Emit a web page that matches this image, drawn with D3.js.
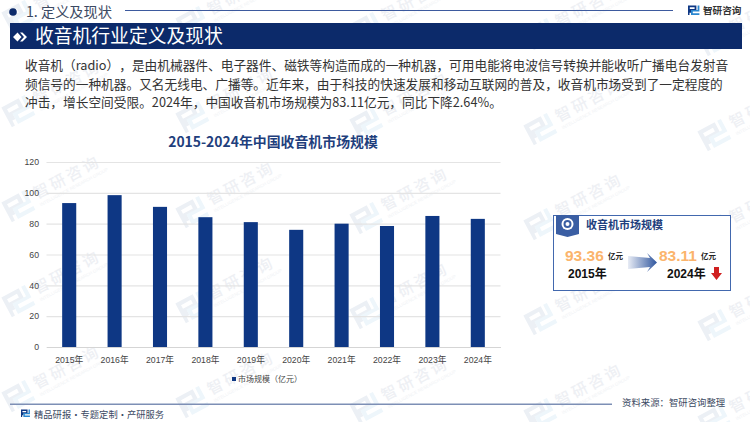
<!DOCTYPE html>
<html>
<head>
    <meta charset="utf-8">
    <title>收音机市场规模</title>
    <script src="https://d3js.org/d3.v7.min.js"></script>
    <style>
        html, body { margin: 0; padding: 0; background: #fff; }
        svg { display: block; }
        text { font-family: "Noto Sans CJK SC", "Noto Sans", sans-serif; text-spacing-trim: space-all; font-feature-settings: "chws" 0, "palt" 0; }
        .latin { font-family: "Liberation Sans", "Noto Sans CJK SC", sans-serif; }
    </style>
</head>
<body>
    <div id="chart"></div>
    <script>
        var years = ["2015年","2016年","2017年","2018年","2019年","2020年","2021年","2022年","2023年","2024年"];
        var marketSize = [93.36,98.5,90.9,84.2,81,76,80,78.5,85,83.11];
        var yTicks = [0,20,40,60,80,100,120];
        var introLines = [
            "收音机（radio），是由机械器件、电子器件、磁铁等构造而成的一种机器，可用电能将电波信号转换并能收听广播电台发射音",
            "频信号的一种机器。又名无线电、广播等。近年来，由于科技的快速发展和移动互联网的普及，收音机市场受到了一定程度的",
            "冲击，增长空间受限。2024年，中国收音机市场规模为83.11亿元，同比下降2.64%。"
        ];
        var navy = "#0c2a6a";
        var barColor = "#0e3784";

        var svg = d3.select("#chart").append("svg")
            .attr("width", 750)
            .attr("height", 422);

        var defs = svg.append("defs");
        var arrowGrad = defs.append("linearGradient").attr("id", "arrowGrad");
        arrowGrad.append("stop").attr("offset", "0").attr("stop-color", "#e8ecf5");
        arrowGrad.append("stop").attr("offset", "1").attr("stop-color", "#2f569e");

        // logo mark, used for the header, footer and watermark
        function logo(g, s, c1, c2) {
            g.append("path").attr("fill", c1)
                .attr("fill-rule", "evenodd")
                .attr("d", "M0 0H" + 14*s + "V" + 9*s + "H" + 5*s + "V" + 12*s + "H" + 2.5*s + "V" + 16*s + "H0Z" +
                    "M" + 3*s + " " + 3*s + "V" + 6*s + "H" + 11*s + "V" + 3*s + "Z");
            g.append("path").attr("fill", c2)
                .attr("d", "M" + 16*s + " 0H" + 19*s + "V" + 10*s + "H" + 8*s + "V" + 13*s + "H" + 19*s + "V" + 16*s + "H" + 5*s + "V" + 7.5*s + "H" + 16*s + "Z");
        }

        // watermark, a slightly skewed lattice of rotated stamps
        d3.range(0, 5).forEach(function(c) {
            d3.range(-3, 2).forEach(function(r) {
                var wm = svg.append("g")
                    .attr("transform", "translate(" + (18 + c*174) + "," + (301 + c*6 + r*95) + ") rotate(-28)");
                logo(wm.append("g").attr("transform", "translate(-13,-11)"), 1.4, "#ecf0f5", "#eef6fb");
                wm.append("text").attr("x", 20).attr("y", 3)
                    .attr("font-size", 15.5).attr("font-weight", 500).attr("fill", "#eef0f4")
                    .attr("letter-spacing", 3).text("智研咨询");
                wm.append("text").attr("x", 20).attr("y", 11)
                    .attr("class", "latin")
                    .attr("font-size", 4.5).attr("fill", "#f0f2f5")
                    .text("INTELLIGENCE RESEARCH GROUP");
            });
        });

        // header
        svg.append("circle").attr("cx", 13).attr("cy", 12).attr("r", 3.8).attr("fill", navy);
        svg.append("text").attr("x", 26).attr("y", 17).attr("font-size", 14.2).attr("fill", "#3c4a63").text("1. 定义及现状");
        svg.append("line").attr("x1", 125).attr("x2", 673).attr("y1", 10.5).attr("y2", 10.5)
            .attr("stroke", "#3d5a9e").attr("stroke-width", 1);
        logo(svg.append("g").attr("transform", "translate(688,5.5)"), 0.6, "#0e3784", "#2a87d0");
        svg.append("text").attr("x", 703).attr("y", 14).attr("font-size", 9.6).attr("font-weight", 700)
            .attr("fill", "#333").text("智研咨询");

        svg.append("rect").attr("x", 10).attr("y", 23).attr("width", 732).attr("height", 26).attr("fill", navy);
        svg.append("path").attr("fill", "#fff")
            .attr("d", "M13 37l4.5-4.5 4 4.5-4 4.5ZM20 32.5h2.5l4.5 4.5-4.5 4.5H20l4-4.5Z");
        svg.append("text").attr("x", 35).attr("y", 43).attr("font-size", 18.8).attr("fill", "#fff").text("收音机行业定义及现状");

        // intro paragraph
        svg.append("g").selectAll("text")
            .data(introLines)
            .enter()
            .append("text")
            .attr("x", 25)
            .attr("y", function(d, i) { return 70 + i*18.5; })
            .attr("font-size", 12.7)
            .attr("fill", "#333")
            .text(function(d) { return d; });

        // chart
        svg.append("text").attr("x", 273).attr("y", 147).attr("text-anchor", "middle")
            .attr("font-size", 13.9).attr("font-weight", 700).attr("fill", "#1f3f7d")
            .text("2015-2024年中国收音机市场规模");

        var x = d3.scaleBand().domain(years).range([46.5, 500.5]).paddingInner(0.69).paddingOuter(0.345);
        var y = d3.scaleLinear().domain([0, 120]).range([347, 162]);

        var yAxis = svg.append("g")
            .attr("transform", "translate(46.5,0)")
            .call(d3.axisLeft(y).tickValues(yTicks).tickSize(-454).tickPadding(7.5));
        yAxis.select(".domain").remove();
        yAxis.selectAll("line").attr("stroke", "#e4e4e4").attr("stroke-width", 1.2);
        yAxis.selectAll("text").attr("font-size", 8.7).attr("fill", "#444").attr("class", "latin");

        svg.append("g").selectAll("rect")
            .data(marketSize)
            .enter()
            .append("rect")
            .attr("x", function(d, i) { return x(years[i]); })
            .attr("y", function(d) { return y(d); })
            .attr("width", x.bandwidth())
            .attr("height", function(d) { return y(0) - y(d); })
            .attr("fill", barColor);

        var xAxis = svg.append("g")
            .attr("transform", "translate(0,347)")
            .call(d3.axisBottom(x).tickSize(0).tickPadding(9.5));
        xAxis.select(".domain").attr("stroke", "#d5d5d5");
        xAxis.selectAll("text").attr("font-size", 8.7).attr("fill", "#444").attr("class", "latin");

        // legend
        svg.append("rect").attr("x", 232).attr("y", 377).attr("width", 4).attr("height", 4).attr("fill", barColor);
        svg.append("text").attr("x", 238).attr("y", 382).attr("font-size", 8).attr("fill", "#444").text("市场规模（亿元）");

        // summary card
        svg.append("rect").attr("x", 553.5).attr("y", 215.5).attr("width", 177).attr("height", 75)
            .attr("fill", "#fff").attr("stroke", "#4268ae").attr("stroke-width", 1);
        svg.append("path").attr("fill", "#3a5ea3").attr("d", "M556 215H579V234L567.5 237L556 234Z");
        svg.append("circle").attr("cx", 567.5).attr("cy", 224).attr("r", 6).attr("fill", "#fff");
        svg.append("circle").attr("cx", 567.5).attr("cy", 224).attr("r", 3).attr("fill", "none")
            .attr("stroke", "#3a5ea3").attr("stroke-width", 2);
        svg.append("text").attr("x", 586).attr("y", 229).attr("font-size", 11).attr("font-weight", 700)
            .attr("fill", "#1f3f7d").text("收音机市场规模");

        svg.append("text").attr("class", "latin").attr("x", 565).attr("y", 261).attr("font-size", 15.5).attr("font-weight", 700)
            .attr("fill", "#fbb46c").text("93.36");
        svg.append("text").attr("x", 608).attr("y", 259).attr("font-size", 7.5).attr("font-weight", 700)
            .attr("fill", "#222").text("亿元");
        svg.append("text").attr("class", "latin").attr("x", 568).attr("y", 278).attr("font-size", 12).attr("font-weight", 700)
            .attr("fill", "#111").text("2015年");

        svg.append("path").attr("fill", "url(#arrowGrad)")
            .attr("d", "M628 256L650 258L647 253L657 262.5L647 272L650 267L628 269Z");

        svg.append("text").attr("class", "latin").attr("x", 659).attr("y", 261).attr("font-size", 15.5).attr("font-weight", 700)
            .attr("fill", "#fbb46c").text("83.11");
        svg.append("text").attr("x", 701).attr("y", 259).attr("font-size", 7.5).attr("font-weight", 700)
            .attr("fill", "#222").text("亿元");
        svg.append("text").attr("class", "latin").attr("x", 667).attr("y", 278).attr("font-size", 12).attr("font-weight", 700)
            .attr("fill", "#111").text("2024年");
        svg.append("path").attr("fill", "#d02020").attr("d", "M714 267H719V273H722L716.5 280L711 273H714Z");

        // footer
        svg.append("rect").attr("x", 10).attr("y", 403.5).attr("width", 602).attr("height", 1.5).attr("fill", "#7d8fb5");
        logo(svg.append("g").attr("transform", "translate(21,409.5)"), 0.47, "#0e3784", "#2a87d0");
        svg.append("text").attr("x", 34).attr("y", 417.5).attr("font-size", 9.3).attr("fill", "#3c4a63")
            .text("精品研报・专题定制・产研服务");
        svg.append("text").attr("x", 622).attr("y", 406).attr("font-size", 9.4).attr("fill", "#3c4a63")
            .text("资料来源：智研咨询整理");
    </script>
</body>
</html>
